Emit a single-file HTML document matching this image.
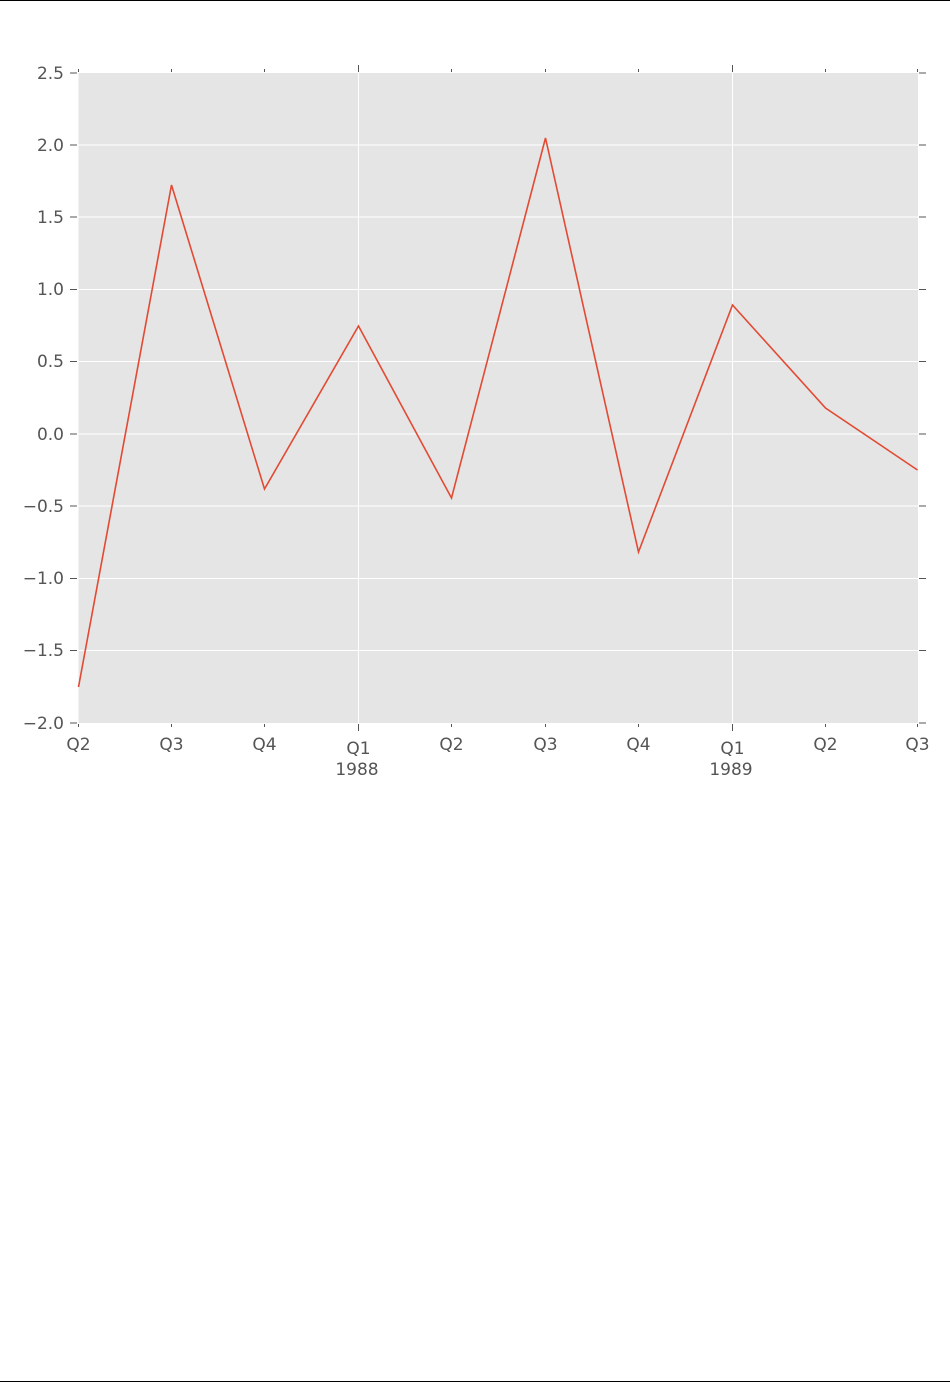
<!DOCTYPE html>
<html><head><meta charset="utf-8"><style>
html,body{margin:0;padding:0;background:#fff}
svg{display:block}
text{font-family:"DejaVu Sans","Liberation Sans",sans-serif;font-size:17px;fill:#555}
</style></head><body>
<svg width="950" height="1382" viewBox="0 0 950 1382">
<line x1="0" y1="0.5" x2="950" y2="0.5" stroke="#000" stroke-width="1"/>
<line x1="0" y1="1381.5" x2="950" y2="1381.5" stroke="#000" stroke-width="1"/>
<rect x="78.5" y="73" width="839.5" height="650" fill="#e5e5e5"/>
<g stroke="#fff" stroke-width="1">
<line x1="78.5" x2="918" y1="145" y2="145"/>
<line x1="78.5" x2="918" y1="217" y2="217"/>
<line x1="78.5" x2="918" y1="289.5" y2="289.5"/>
<line x1="78.5" x2="918" y1="361.5" y2="361.5"/>
<line x1="78.5" x2="918" y1="434" y2="434"/>
<line x1="78.5" x2="918" y1="506" y2="506"/>
<line x1="78.5" x2="918" y1="578.5" y2="578.5"/>
<line x1="78.5" x2="918" y1="650.5" y2="650.5"/>
<line x1="358.5" x2="358.5" y1="73" y2="723"/>
<line x1="732.5" x2="732.5" y1="73" y2="723"/>
</g>
<g stroke="#555" stroke-width="1">
<line x1="70" x2="77" y1="73" y2="73"/><line x1="70" x2="77" y1="145" y2="145"/><line x1="70" x2="77" y1="217" y2="217"/><line x1="70" x2="77" y1="289.5" y2="289.5"/><line x1="70" x2="77" y1="361.5" y2="361.5"/><line x1="70" x2="77" y1="434" y2="434"/><line x1="70" x2="77" y1="506" y2="506"/><line x1="70" x2="77" y1="578.5" y2="578.5"/><line x1="70" x2="77" y1="650.5" y2="650.5"/><line x1="70" x2="77" y1="723" y2="723"/>
<line x1="919" x2="926" y1="73" y2="73"/><line x1="919" x2="926" y1="145" y2="145"/><line x1="919" x2="926" y1="217" y2="217"/><line x1="919" x2="926" y1="289.5" y2="289.5"/><line x1="919" x2="926" y1="361.5" y2="361.5"/><line x1="919" x2="926" y1="434" y2="434"/><line x1="919" x2="926" y1="506" y2="506"/><line x1="919" x2="926" y1="578.5" y2="578.5"/><line x1="919" x2="926" y1="650.5" y2="650.5"/><line x1="919" x2="926" y1="723" y2="723"/>
<line x1="358.5" x2="358.5" y1="65" y2="72"/><line x1="732.5" x2="732.5" y1="65" y2="72"/>
<line x1="358.5" x2="358.5" y1="724" y2="731"/><line x1="732.5" x2="732.5" y1="724" y2="731"/>
<g>
<line x1="78.5" x2="78.5" y1="69" y2="72"/><line x1="171.5" x2="171.5" y1="69" y2="72"/><line x1="264.5" x2="264.5" y1="69" y2="72"/><line x1="451.5" x2="451.5" y1="69" y2="72"/><line x1="545.5" x2="545.5" y1="69" y2="72"/><line x1="638.5" x2="638.5" y1="69" y2="72"/><line x1="825.5" x2="825.5" y1="69" y2="72"/><line x1="917.5" x2="917.5" y1="69" y2="72"/>
<line x1="78.5" x2="78.5" y1="724" y2="727"/><line x1="171.5" x2="171.5" y1="724" y2="727"/><line x1="264.5" x2="264.5" y1="724" y2="727"/><line x1="451.5" x2="451.5" y1="724" y2="727"/><line x1="545.5" x2="545.5" y1="724" y2="727"/><line x1="638.5" x2="638.5" y1="724" y2="727"/><line x1="825.5" x2="825.5" y1="724" y2="727"/><line x1="917.5" x2="917.5" y1="724" y2="727"/>
</g>
</g>
<g text-anchor="end">
<text x="64" y="79">2.5</text><text x="64" y="151">2.0</text><text x="64" y="223">1.5</text><text x="64" y="295">1.0</text><text x="64" y="367">0.5</text><text x="64" y="440">0.0</text><text x="64" y="512">−0.5</text><text x="64" y="584">−1.0</text><text x="64" y="656">−1.5</text><text x="64" y="729">−2.0</text>
</g>
<g text-anchor="middle">
<text x="78.5" y="750">Q2</text><text x="171.5" y="750">Q3</text><text x="264.5" y="750">Q4</text><text x="358.5" y="754">Q1</text><text x="357" y="775">1988</text><text x="451.5" y="750">Q2</text><text x="545.5" y="750">Q3</text><text x="638.5" y="750">Q4</text><text x="732.5" y="754">Q1</text><text x="731" y="775">1989</text><text x="825.5" y="750">Q2</text><text x="917.5" y="750">Q3</text>
</g>
<polyline fill="none" stroke="#e24a33" stroke-width="1.6" points="78.5,687 171.5,185 264.5,489 358.5,326 451.5,498 545.5,138 638.5,552 732.5,305 825.5,408 917.5,470"/>
</svg>
</body></html>
